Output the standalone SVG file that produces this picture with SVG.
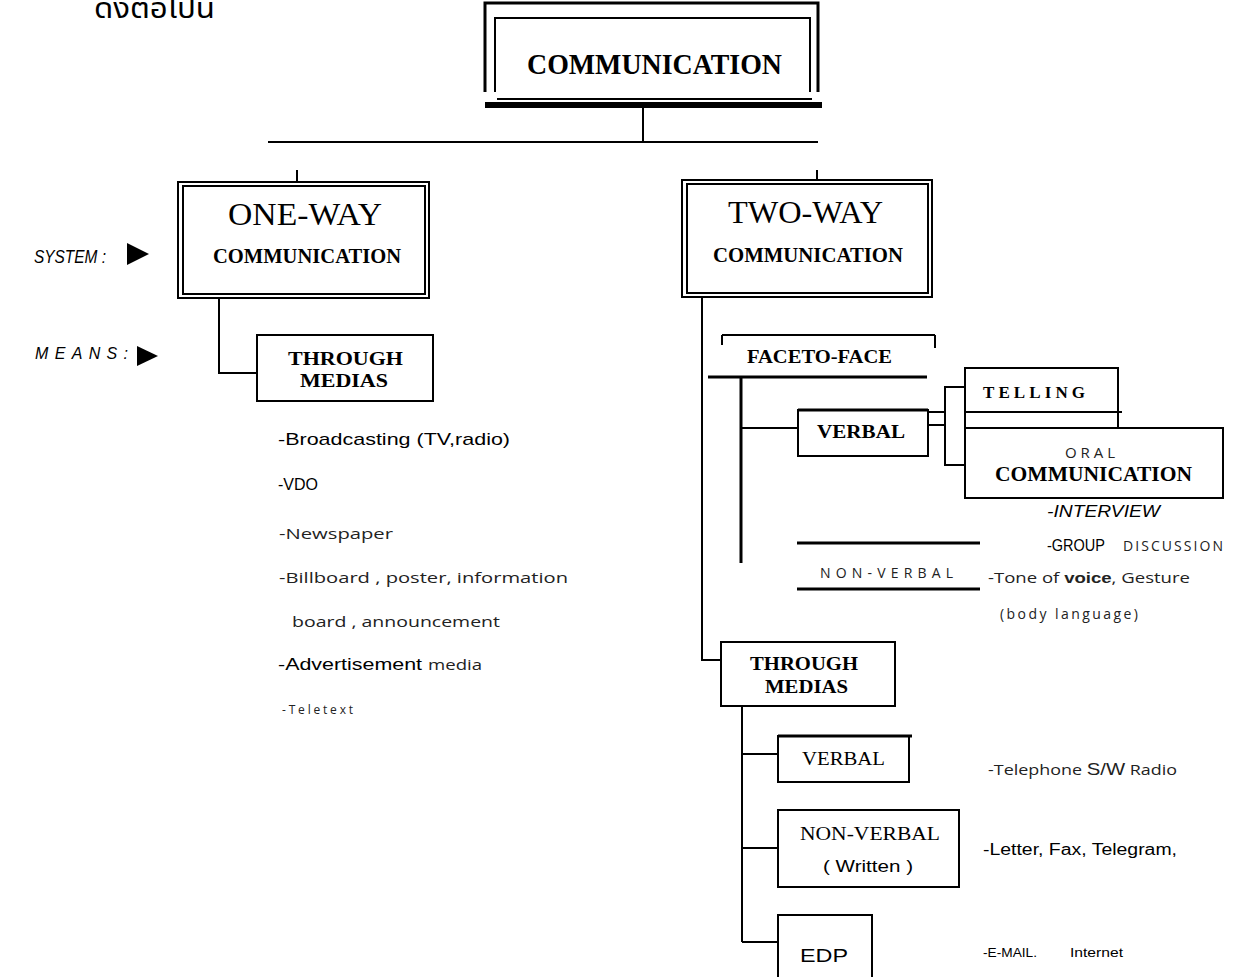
<svg xmlns="http://www.w3.org/2000/svg" width="1244" height="977" viewBox="0 0 1244 977">
<style>
.ln{stroke:#000;stroke-width:2;fill:none}
.tk{stroke:#000;stroke-width:3;fill:none}
.bx{fill:#fff;stroke:#000;stroke-width:2}
.sr{font-family:"Liberation Serif","Times New Roman",serif;fill:#000}
.sb{font-family:"Liberation Serif","Times New Roman",serif;font-weight:bold;fill:#000}
.ss{font-family:"Liberation Sans",Arial,sans-serif;fill:#000}
.lt{font-family:"Open Sans","Liberation Sans",sans-serif;fill:#222}
</style>
<rect width="1244" height="977" fill="#fff"/>
<text x="94" y="18" font-size="28" font-family="'Noto Sans Thai','Noto Sans','DejaVu Sans',sans-serif" textLength="121" lengthAdjust="spacingAndGlyphs">ดังต่อไปนี้</text>

<g id="communication">
<path class="tk" d="M485,92 V3 H818 V92"/>
<path class="ln" d="M495,92 V18 H810 V92"/>
<line class="ln" x1="497" y1="99" x2="812" y2="99"/>
<line stroke="#000" stroke-width="6" x1="485" y1="105" x2="822" y2="105"/>
<text class="sb" x="527" y="74" font-size="30" textLength="255" lengthAdjust="spacingAndGlyphs">COMMUNICATION</text>
</g>

<g id="connectors">
<line class="ln" x1="643" y1="105" x2="643" y2="142"/>
<line class="ln" x1="268" y1="142" x2="818" y2="142"/>
<line class="ln" x1="297" y1="170" x2="297" y2="182"/>
<line class="ln" x1="817" y1="170" x2="817" y2="180"/>
<polyline class="ln" points="219,298 219,373 257,373"/>
<polyline class="ln" points="702,297 702,660 721,660"/>
<line class="ln" x1="722" y1="335" x2="935" y2="335"/>
<line class="ln" x1="722" y1="335" x2="722" y2="345"/>
<line class="ln" x1="935" y1="335" x2="935" y2="348"/>
<line class="tk" x1="708" y1="377" x2="927" y2="377"/>
<line class="tk" x1="741" y1="377" x2="741" y2="563"/>
<line class="ln" x1="741" y1="428" x2="798" y2="428"/>
<line class="ln" x1="928" y1="412" x2="945" y2="412"/>
<line class="ln" x1="928" y1="425" x2="945" y2="425"/>
<polyline class="ln" points="965,387 945,387 945,465 965,465"/>
<line class="tk" x1="797" y1="543" x2="980" y2="543"/>
<line class="tk" x1="797" y1="589" x2="980" y2="589"/>
<line class="ln" x1="742" y1="706" x2="742" y2="942"/>
<line class="ln" x1="742" y1="754" x2="778" y2="754"/>
<line class="ln" x1="742" y1="848" x2="778" y2="848"/>
<line class="ln" x1="742" y1="942" x2="778" y2="942"/>
</g>

<g id="labels-left">
<text class="ss" x="34" y="263" font-size="18" font-style="italic" textLength="72" lengthAdjust="spacingAndGlyphs">SYSTEM :</text>
<polygon points="127,243 149,254 127,265" fill="#000"/>
<text class="ss" x="35" y="359" font-size="16" font-style="italic" textLength="93" lengthAdjust="spacing">MEANS:</text>
<polygon points="137,346 158,356 137,366" fill="#000"/>
</g>

<g id="one-way">
<rect class="bx" x="178" y="182" width="251" height="116"/>
<rect class="ln" x="183" y="186" width="242" height="108"/>
<text class="sr" x="228" y="225" font-size="32" textLength="154" lengthAdjust="spacingAndGlyphs">ONE-WAY</text>
<text class="sb" x="213" y="263" font-size="20" textLength="188" lengthAdjust="spacingAndGlyphs">COMMUNICATION</text>
</g>

<g id="two-way">
<rect class="bx" x="682" y="180" width="250" height="117"/>
<rect class="ln" x="687" y="184" width="241" height="109"/>
<text class="sr" x="728" y="223" font-size="32" textLength="155" lengthAdjust="spacingAndGlyphs">TWO-WAY</text>
<text class="sb" x="713" y="262" font-size="20" textLength="190" lengthAdjust="spacingAndGlyphs">COMMUNICATION</text>
</g>

<g id="through-medias-1">
<rect class="bx" x="257" y="335" width="176" height="66"/>
<text class="sb" x="288" y="365" font-size="18" textLength="115" lengthAdjust="spacingAndGlyphs">THROUGH</text>
<text class="sb" x="300" y="387" font-size="18" textLength="88" lengthAdjust="spacingAndGlyphs">MEDIAS</text>
</g>

<g id="one-way-list">
<text class="ss" x="278" y="445" font-size="17" textLength="232" lengthAdjust="spacingAndGlyphs">-Broadcasting (TV,radio)</text>
<text class="ss" x="278" y="490" font-size="17" textLength="40" lengthAdjust="spacingAndGlyphs">-VDO</text>
<text class="lt" x="279" y="539" font-size="15" textLength="114" lengthAdjust="spacingAndGlyphs">-Newspaper</text>
<text class="lt" x="279" y="583" font-size="15" textLength="289" lengthAdjust="spacingAndGlyphs">-Billboard  ,  poster,  information</text>
<text class="lt" x="292" y="627" font-size="15" textLength="208" lengthAdjust="spacingAndGlyphs">board  , announcement</text>
<text class="ss" x="278" y="670" font-size="17" textLength="144" lengthAdjust="spacingAndGlyphs">-Advertisement</text>
<text class="lt" x="428" y="670" font-size="15" textLength="54" lengthAdjust="spacingAndGlyphs">media</text>
<text class="lt" x="282" y="714" font-size="12" textLength="71" lengthAdjust="spacing">-Teletext</text>
</g>

<g id="face-to-face">
<text class="sb" x="747" y="363" font-size="18" textLength="145" lengthAdjust="spacingAndGlyphs">FACETO-FACE</text>
</g>

<g id="verbal-1">
<rect class="bx" x="798" y="410" width="130" height="46"/>
<line class="tk" x1="798" y1="410" x2="928" y2="410"/>
<text class="sb" x="817" y="438" font-size="18" textLength="88" lengthAdjust="spacingAndGlyphs">VERBAL</text>
</g>

<g id="telling">
<polyline class="ln" points="965,428 965,368 1118,368 1118,428"/>
<line class="ln" x1="965" y1="412" x2="1122" y2="412"/>
<text class="sb" x="983" y="398" font-size="17" textLength="102" lengthAdjust="spacing">TELLING</text>
</g>

<g id="oral-communication">
<rect class="bx" x="965" y="428" width="258" height="70"/>
<text class="lt" x="1065" y="458" font-size="15" textLength="50" lengthAdjust="spacing">ORAL</text>
<text class="sb" x="995" y="481" font-size="21" textLength="197" lengthAdjust="spacingAndGlyphs">COMMUNICATION</text>
<text class="ss" x="1047" y="517" font-size="16" font-style="italic" textLength="113" lengthAdjust="spacingAndGlyphs">-INTERVIEW</text>
<text class="ss" x="1047" y="551" font-size="16" textLength="58" lengthAdjust="spacingAndGlyphs">-GROUP</text>
<text class="lt" x="1123" y="551" font-size="14" textLength="100" lengthAdjust="spacing">DISCUSSION</text>
</g>

<g id="non-verbal-1">
<text class="lt" x="820" y="578" font-size="14" textLength="133" lengthAdjust="spacing">NON-VERBAL</text>
<text class="lt" x="988" y="583" font-size="15" textLength="202" lengthAdjust="spacingAndGlyphs">-Tone of <tspan font-weight="bold" font-family="Liberation Sans">voice</tspan>, Gesture</text>
<text class="lt" x="1000" y="619" font-size="14" textLength="138" lengthAdjust="spacing">(body  language)</text>
</g>

<g id="through-medias-2">
<rect class="bx" x="721" y="642" width="174" height="64"/>
<text class="sb" x="750" y="670" font-size="18" textLength="108" lengthAdjust="spacingAndGlyphs">THROUGH</text>
<text class="sb" x="765" y="693" font-size="18" textLength="83" lengthAdjust="spacingAndGlyphs">MEDIAS</text>
</g>

<g id="verbal-2">
<rect class="bx" x="778" y="736" width="131" height="46"/>
<line class="tk" x1="778" y1="736" x2="912" y2="736"/>
<text class="sr" x="802" y="765" font-size="18" textLength="83" lengthAdjust="spacingAndGlyphs">VERBAL</text>
<text class="lt" x="988" y="775" font-size="15" textLength="189" lengthAdjust="spacingAndGlyphs">-Telephone <tspan font-family="Liberation Sans" font-size="17">S/W</tspan> Radio</text>
</g>

<g id="non-verbal-2">
<rect class="bx" x="778" y="810" width="181" height="77"/>
<text class="sr" x="800" y="840" font-size="18" textLength="140" lengthAdjust="spacingAndGlyphs">NON-VERBAL</text>
<text class="ss" x="823" y="872" font-size="17" textLength="90" lengthAdjust="spacingAndGlyphs">( Written )</text>
<text class="ss" x="983" y="855" font-size="16" textLength="194" lengthAdjust="spacingAndGlyphs">-Letter, Fax, Telegram,</text>
</g>

<g id="edp">
<polyline class="ln" points="778,980 778,915 872,915 872,980"/>
<text class="ss" x="800" y="962" font-size="18" textLength="48" lengthAdjust="spacingAndGlyphs">EDP</text>
<text class="ss" x="983" y="957" font-size="13" textLength="54" lengthAdjust="spacingAndGlyphs">-E-MAIL.</text>
<text class="ss" x="1070" y="957" font-size="13" textLength="53" lengthAdjust="spacingAndGlyphs">Internet</text>
</g>
</svg>
